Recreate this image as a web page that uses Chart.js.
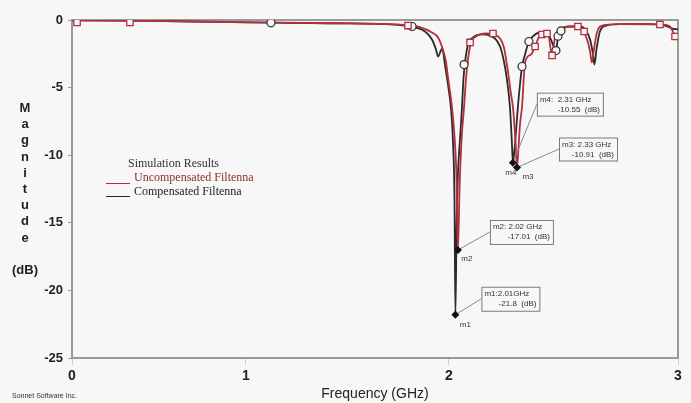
<!DOCTYPE html>
<html>
<head>
<meta charset="utf-8">
<script src="https://cdn.jsdelivr.net/npm/chart.js@4.4.1/dist/chart.umd.min.js"></script>
<style>
  body { margin: 0; background: #f7f7f7; }
  #wrap { position: relative; width: 691px; height: 403px; font-family: Arial, "Liberation Sans", sans-serif; }
  #wrap canvas { position: absolute; left: 0; top: 0; }
  .ylabel { position: absolute; left: 6px; top: 100px; width: 38px; text-align: center;
            font-weight: bold; font-size: 13px; line-height: 16.2px; color: #222; }
  .leg { position: absolute; font-family: "Liberation Serif", "DejaVu Serif", serif; font-size: 12px; white-space: nowrap; line-height: 14px; }
  .legline { position: absolute; height: 1px; width: 24px; left: 106px; }
  .credit { position: absolute; left: 12px; top: 392px; font-size: 7px; color: #333; }
</style>
</head>
<body>
<div id="wrap">
  <canvas id="chart" width="691" height="403"></canvas>
  <div class="ylabel">M<br>a<br>g<br>n<br>i<br>t<br>u<br>d<br>e<br><br>(dB)</div>
  <div class="leg" style="left:128px; top:156px; color:#333;">Simulation Results</div>
  <div class="leg" style="left:134px; top:170px; color:#8a3324;">Uncompensated Filtenna</div>
  <div class="legline" style="top:183px; background:#b3303c;"></div>
  <div class="leg" style="left:134px; top:184px; color:#222;">Compensated Filtenna</div>
  <div class="legline" style="top:196px; background:#2a2a2a;"></div>
  <div class="credit">Sonnet Software Inc.</div>
</div>
<script>
// frequency axis ticks (GHz) and magnitude ticks (dB)
const freqTicks = [0, 1, 2, 3];
const magTicks = [-25, -20, -15, -10, -5, 0];

// Uncompensated Filtenna (red)
const uncompFreq = [0, 0.448, 1.020, 1.414, 1.783, 1.857, 1.916, 1.946, 1.970, 1.985,
  1.995, 2.009, 2.022, 2.033, 2.039, 2.046, 2.055, 2.066, 2.074, 2.083,
  2.096, 2.118, 2.162, 2.197, 2.223, 2.240, 2.258, 2.271, 2.279, 2.290,
  2.297, 2.303, 2.310, 2.319, 2.332, 2.358, 2.376, 2.397, 2.432, 2.450,
  2.463, 2.485, 2.528, 2.568, 2.585, 2.603, 2.616, 2.624, 2.633, 2.646,
  2.668, 2.747, 2.921, 2.965, 2.987, 3.0];
const uncompMag = [-0.04, -0.07, -0.17, -0.24, -0.37, -0.52, -0.92, -1.29, -2.18, -3.07,
  -4.25, -5.88, -8.10, -11.80, -17.01, -12.54, -8.84, -6.40, -4.40, -2.92,
  -1.66, -1.22, -1.00, -1.07, -1.37, -2.03, -3.88, -5.51, -6.40, -8.84,
  -10.91, -9.58, -7.73, -6.40, -3.14, -2.55, -1.96, -1.15, -1.00, -2.62,
  -1.29, -0.70, -0.48, -0.48, -0.78, -1.44, -2.33, -3.14, -2.18, -0.92,
  -0.41, -0.30, -0.33, -0.48, -1.15, -1.29];

// Compensated Filtenna (black)
const compFreq = [0, 0.448, 1.020, 1.414, 1.759, 1.833, 1.882, 1.916, 1.936, 1.946,
  1.966, 1.980, 1.995, 2.009, 2.017, 2.024, 2.028, 2.033, 2.039, 2.048,
  2.057, 2.063, 2.070, 2.083, 2.105, 2.144, 2.179, 2.205, 2.223, 2.240,
  2.253, 2.266, 2.274, 2.279, 2.286, 2.295, 2.301, 2.310, 2.319, 2.332,
  2.349, 2.371, 2.397, 2.428, 2.445, 2.467, 2.476, 2.493, 2.528, 2.572,
  2.598, 2.616, 2.629, 2.635, 2.644, 2.659, 2.686, 2.747, 2.878, 2.943,
  2.974, 3.0];
const compMag = [0, -0.07, -0.18, -0.24, -0.37, -0.55, -0.85, -1.44, -2.18, -2.70,
  -2.11, -3.29, -4.77, -6.62, -8.84, -13.28, -21.8, -15.49, -11.43, -8.84,
  -6.40, -4.40, -3.14, -1.81, -1.29, -1.07, -1.15, -1.44, -1.96, -3.07,
  -4.40, -6.40, -8.84, -10.55, -9.58, -7.73, -6.40, -4.77, -3.44, -2.55,
  -1.59, -1.15, -0.92, -1.00, -1.44, -2.26, -1.29, -0.70, -0.48, -0.48,
  -0.78, -1.44, -2.55, -3.29, -2.18, -0.85, -0.41, -0.30, -0.30, -0.41,
  -0.63, -0.70];

// plotted symbols on each curve
const uncompSymFreq = [0.029, 0.333, 1.798, 2.092, 2.192, 2.376, 2.406, 2.428, 2.450, 2.563, 2.590, 2.921, 2.987];
const uncompSymMag = [-0.18, -0.18, -0.41, -1.66, -1.00, -1.96, -1.07, -1.00, -2.62, -0.48, -0.85, -0.33, -1.22];
const compSymFreq = [1.123, 1.818, 2.066, 2.319, 2.349, 2.467, 2.476, 2.489];
const compSymMag = [-0.21, -0.48, -3.3, -3.44, -1.59, -2.26, -1.2, -0.8];

// markers m1..m4
const markerNames = ['m1', 'm2', 'm3', 'm4'];
const markerFreq = [2.028, 2.039, 2.297, 2.279];
const markerMag = [-21.8, -17.01, -10.91, -10.55];
const markerLine1 = ['m1:2.01GHz', 'm2: 2.02 GHz', 'm3: 2.33 GHz', 'm4:  2.31 GHz'];
const markerLine2 = ['-21.8  (dB)', '-17.01  (dB)', '-10.91  (dB)', '-10.55  (dB)'];

// where each marker's readout box and name sit relative to the marker
const markerBoxLayout = {
  m1: { dx: 26, dy: -28, w: 58, h: 24, lx: 10, ly: 10 },
  m2: { dx: 32, dy: -30, w: 63, h: 24, lx: 9, ly: 9 },
  m3: { dx: 42, dy: -30, w: 58, h: 23, lx: 11, ly: 9 },
  m4: { dx: 24, dy: -70, w: 66, h: 23, lx: -2, ly: 10 }
};

const RED = '#b3303c';
const BLACK = '#2a2a2a';
const AXIS = '#9a9a9a';

const toPoints = (xs, ys) => xs.map((x, i) => ({ x: x, y: ys[i] }));

// the source plot's frequency axis is stretched unevenly: 0,1,2,3 GHz are not equally spaced
const warpKnots = [0, 0.2871, 0.6221, 1];
function warp(v) {
  const i = Math.max(0, Math.min(2, Math.floor(v)));
  return warpKnots[i] + (v - i) * (warpKnots[i + 1] - warpKnots[i]);
}
function unwarp(d) {
  let i = 0;
  while (i < 2 && d > warpKnots[i + 1]) i++;
  return i + (d - warpKnots[i]) / (warpKnots[i + 1] - warpKnots[i]);
}
const BaseLinear = Chart.LinearScale || Chart.registry.getScale('linear');
class WarpedScale extends BaseLinear {
  getPixelForValue(value) {
    if (value === null || isNaN(value)) return NaN;
    return this.getPixelForDecimal(warp(value));
  }
  getValueForPixel(pixel) {
    return unwarp(this.getDecimalForPixel(pixel));
  }
}
WarpedScale.id = 'warped';
WarpedScale.defaults = BaseLinear.defaults;
Chart.register(WarpedScale);

const framePlugin = {
  id: 'frame',
  beforeDatasetsDraw(chart) {
    const { ctx, chartArea: a } = chart;
    ctx.save();
    ctx.strokeStyle = AXIS;
    ctx.lineWidth = 2;
    ctx.beginPath();
    ctx.moveTo(a.left, a.top);
    ctx.lineTo(a.right, a.top);
    ctx.lineTo(a.right, a.bottom);
    ctx.stroke();
    ctx.restore();
  }
};

const markerPlugin = {
  id: 'markers',
  afterDatasetsDraw(chart) {
    const { ctx } = chart;
    const xs = chart.scales.x, ys = chart.scales.y;
    ctx.save();
    markerNames.forEach((name, i) => {
      const px = xs.getPixelForValue(markerFreq[i]);
      const py = ys.getPixelForValue(markerMag[i]);
      const b = markerBoxLayout[name];
      const bx = px + b.dx, by = py + b.dy;
      // leader
      ctx.strokeStyle = '#8a8a8a';
      ctx.lineWidth = 1;
      ctx.beginPath();
      ctx.moveTo(px, py);
      ctx.lineTo(bx, by + b.h / 2);
      ctx.stroke();
      // readout box
      ctx.fillStyle = '#f7f7f7';
      ctx.fillRect(bx, by, b.w, b.h);
      ctx.strokeStyle = '#7a7a7a';
      ctx.strokeRect(bx + 0.5, by + 0.5, b.w, b.h);
      ctx.fillStyle = '#333';
      ctx.font = '8px Arial, "Liberation Sans", sans-serif';
      ctx.textBaseline = 'middle';
      ctx.textAlign = 'left';
      ctx.fillText(markerLine1[i], bx + 3, by + 7);
      ctx.textAlign = 'right';
      ctx.fillText(markerLine2[i], bx + b.w - 3, by + 17);
      // diamond
      ctx.fillStyle = '#111';
      ctx.beginPath();
      ctx.moveTo(px, py - 4);
      ctx.lineTo(px + 4, py);
      ctx.lineTo(px, py + 4);
      ctx.lineTo(px - 4, py);
      ctx.closePath();
      ctx.fill();
      // name under the marker
      ctx.fillStyle = '#333';
      ctx.textAlign = 'center';
      ctx.fillText(name, px + b.lx, py + b.ly);
    });
    ctx.restore();
  }
};

new Chart(document.getElementById('chart'), {
  type: 'scatter',
  data: {
    datasets: [
      {
        label: 'Uncompensated Filtenna symbols',
        data: toPoints(uncompSymFreq, uncompSymMag),
        showLine: false,
        pointStyle: 'rect',
        pointRadius: 4.5,
        pointBorderColor: RED,
        pointBackgroundColor: '#f7f7f7',
        pointBorderWidth: 1.3,
        order: 0
      },
      {
        label: 'Compensated Filtenna symbols',
        data: toPoints(compSymFreq, compSymMag),
        showLine: false,
        pointStyle: 'circle',
        pointRadius: 4,
        pointBorderColor: BLACK,
        pointBackgroundColor: '#f7f7f7',
        pointBorderWidth: 1.2,
        order: 1
      },
      {
        label: 'Uncompensated Filtenna',
        data: toPoints(uncompFreq, uncompMag),
        showLine: true,
        borderColor: RED,
        borderWidth: 1.8,
        pointRadius: 0,
        cubicInterpolationMode: 'monotone',
        tension: 0.4,
        order: 2
      },
      {
        label: 'Compensated Filtenna',
        data: toPoints(compFreq, compMag),
        showLine: true,
        borderColor: BLACK,
        borderWidth: 1.8,
        pointRadius: 0,
        cubicInterpolationMode: 'monotone',
        tension: 0.4,
        order: 3
      }
    ]
  },
  options: {
    responsive: false,
    animation: false,
    events: [],
    layout: { padding: { left: 0, right: 13, top: 20, bottom: 0 } },
    plugins: {
      legend: { display: false },
      tooltip: { enabled: false }
    },
    scales: {
      x: {
        type: 'warped',
        min: freqTicks[0],
        max: freqTicks[freqTicks.length - 1],
        afterBuildTicks: (s) => { s.ticks = freqTicks.map(v => ({ value: v })); },
        afterFit: (s) => { s.height = 45; },
        grid: { drawOnChartArea: false, drawTicks: true, tickLength: 7, color: '#d0d0d0' },
        border: { display: true, color: AXIS, width: 2 },
        ticks: {
          padding: 3,
          color: '#222',
          font: { family: 'Arial, "Liberation Sans", sans-serif', size: 14, weight: 'bold' },
          maxRotation: 0
        },
        title: {
          display: true,
          text: 'Frequency (GHz)',
          color: '#222',
          padding: { top: 0, bottom: 0 },
          font: { family: 'Arial, "Liberation Sans", sans-serif', size: 14 }
        }
      },
      y: {
        min: magTicks[0],
        max: magTicks[magTicks.length - 1],
        afterBuildTicks: (s) => { s.ticks = magTicks.map(v => ({ value: v })); },
        afterFit: (s) => { s.width = 72; },
        grid: { drawOnChartArea: false, drawTicks: true, tickLength: 4, color: AXIS },
        border: { display: true, color: AXIS, width: 2 },
        ticks: {
          padding: 5,
          color: '#222',
          font: { family: 'Arial, "Liberation Sans", sans-serif', size: 13, weight: 'bold' }
        }
      }
    }
  },
  plugins: [framePlugin, markerPlugin]
});
</script>
</body>
</html>
